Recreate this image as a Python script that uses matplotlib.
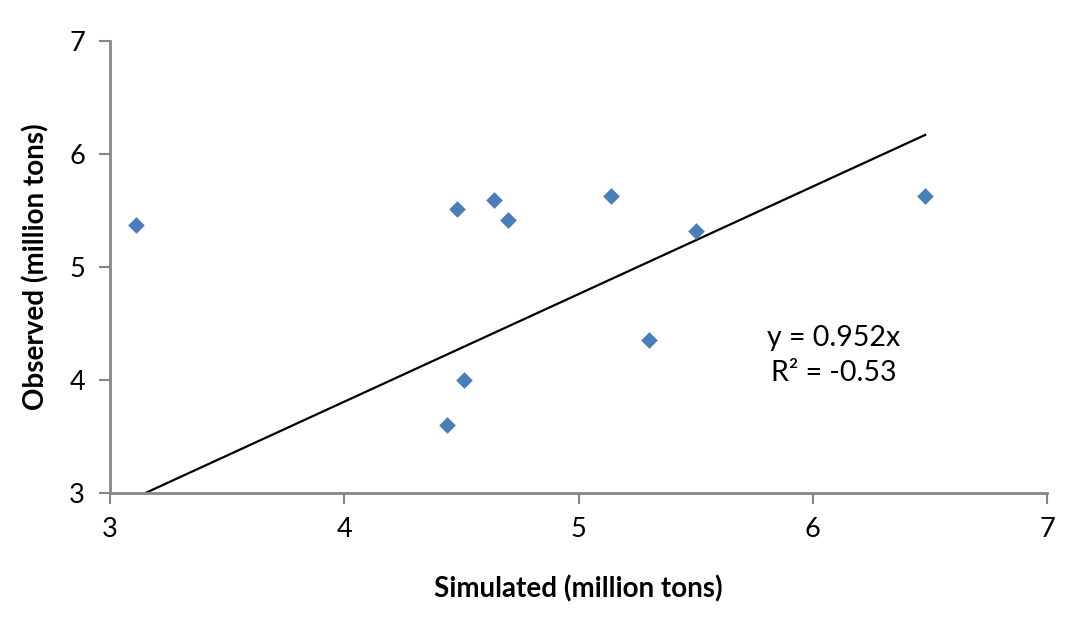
import matplotlib
matplotlib.use("Agg")
import matplotlib.pyplot as plt
import numpy as np

plt.rcParams['font.family'] = ['Lato', 'DejaVu Sans']

simulated = [3.11, 4.48, 4.64, 4.70, 5.14, 5.50, 6.48, 5.30, 4.44, 4.51]
observed = [5.37, 5.51, 5.59, 5.42, 5.63, 5.32, 5.63, 4.35, 3.60, 4.00]
slope = 0.952
eq_text = "y = 0.952x"
r2_text = "R² = -0.53"
ticks = [3, 4, 5, 6, 7]

fig = plt.figure(figsize=(10.69, 6.39), dpi=100)
ax = fig.add_axes([110/1069, 1-493/639, (1047-110)/1069, (493-41)/639])

ax.scatter(simulated, observed, marker='D', s=72, color='#4A7EBB', zorder=3, linewidths=0)

xs = np.linspace(min(simulated), max(simulated), 200)
ax.plot(xs, slope*xs, color='black', lw=1.6, zorder=2, clip_on=True)

ax.set_xlim(3, 7)
ax.set_ylim(3, 7)
ax.set_xticks(ticks)
ax.set_yticks(ticks)
for s in ['top', 'right']:
    ax.spines[s].set_visible(False)
for s in ['left', 'bottom']:
    ax.spines[s].set_color('#868686')
    ax.spines[s].set_linewidth(2)
ax.tick_params(axis='both', colors='#868686', width=1.5, length=8, labelsize=19.5, labelcolor='black')
ax.tick_params(axis='x', pad=9)
ax.tick_params(axis='y', pad=10)

ax.set_xlabel("Simulated (million tons)", fontsize=20, fontweight='bold', labelpad=24)
ax.set_ylabel("Observed (million tons)", fontsize=20, fontweight='bold', labelpad=14)

ax.text(6.09, 4.37, eq_text, fontsize=20.5, ha='center', va='center')
ax.text(6.09, 4.06, r2_text, fontsize=20.5, ha='center', va='center')

fig.savefig("out.png", dpi=100)
